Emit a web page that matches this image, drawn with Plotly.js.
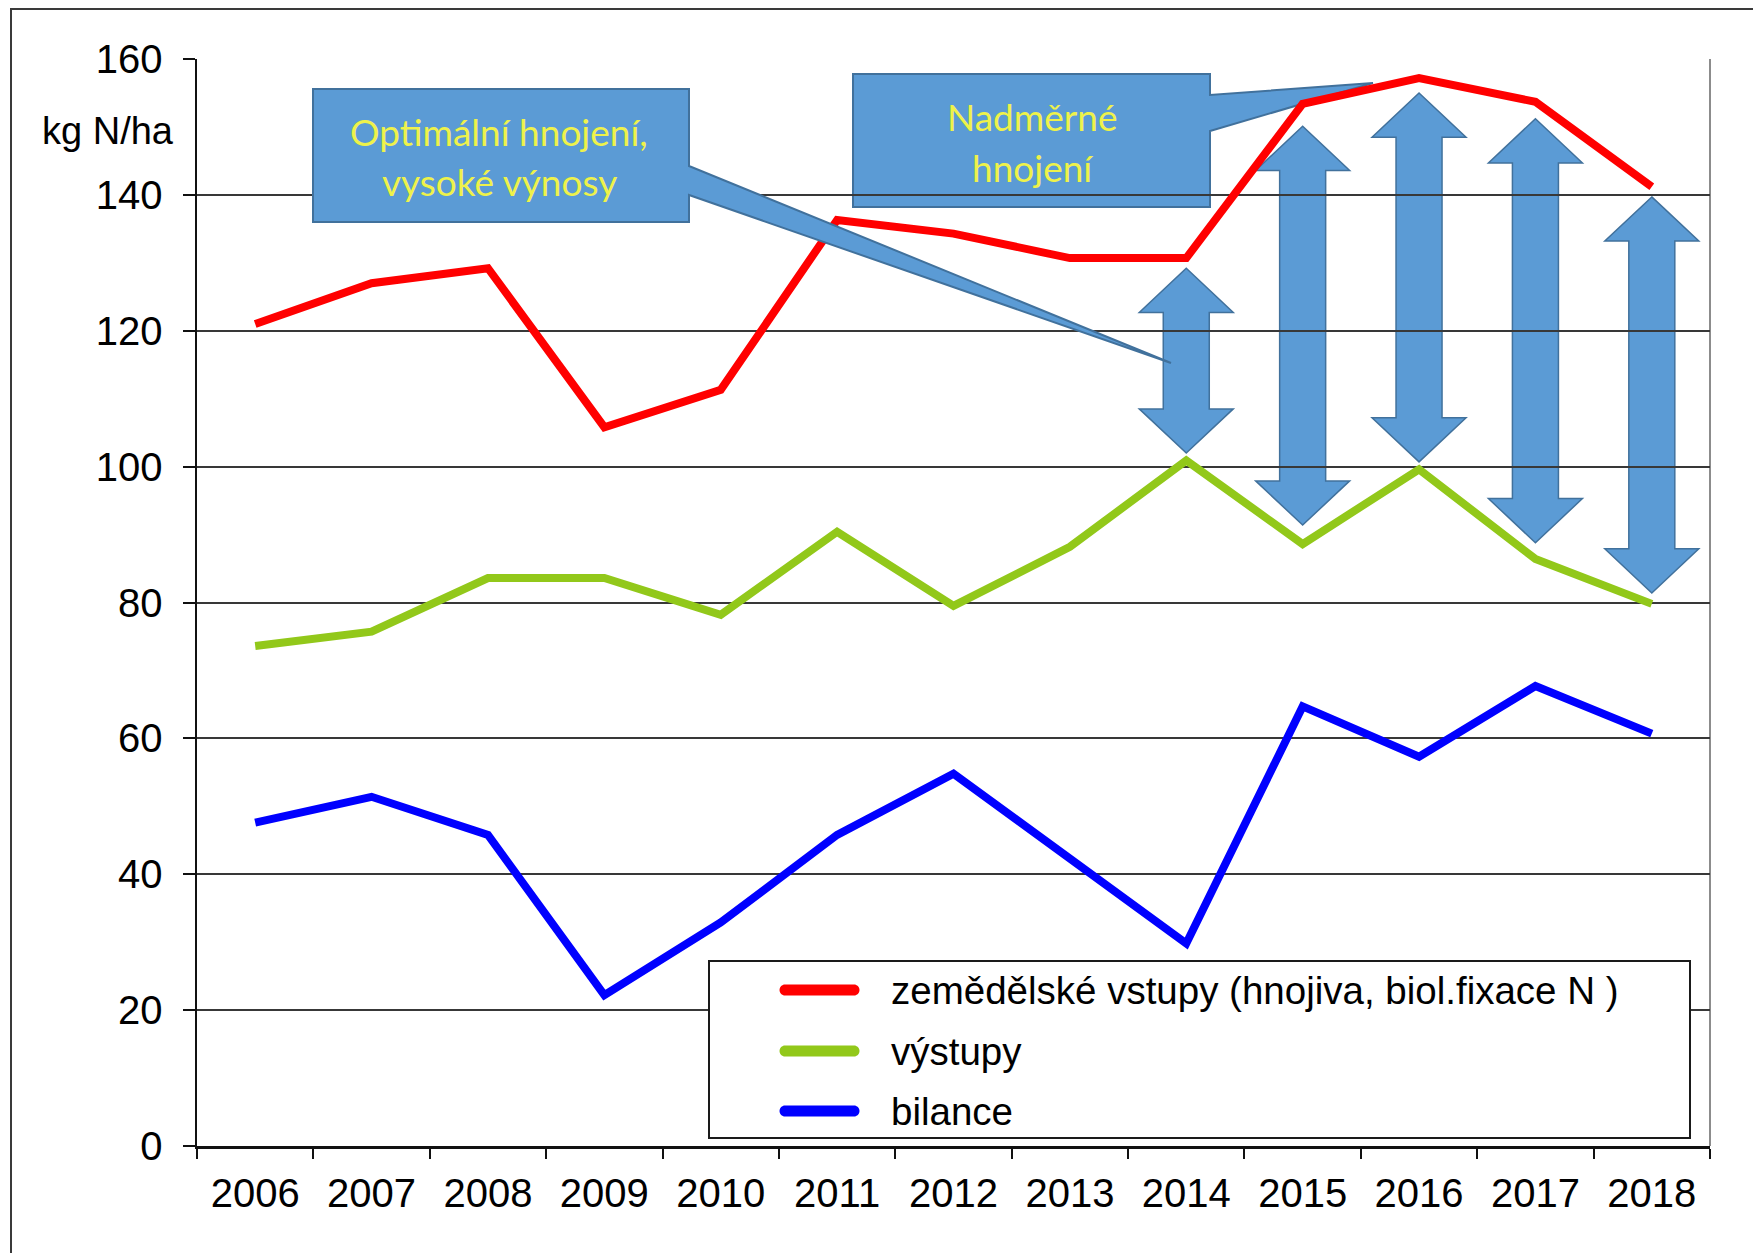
<!DOCTYPE html>
<html>
<head>
<meta charset="utf-8">
<script src="https://cdn.plot.ly/plotly-3.0.1.min.js"></script>
<style>html,body{margin:0;padding:0;background:#fff;}#chart{width:1753px;height:1253px;}</style>
</head>
<body>
<div id="chart"></div>
<script>
// ---- data ----
const years = ['2006','2007','2008','2009','2010','2011','2012','2013','2014','2015','2016','2017','2018'];
const vstupy = [121.0,127.0,129.2,105.8,111.3,136.3,134.3,130.7,130.7,153.4,157.2,153.7,141.2];
const vystupy = [73.6,75.7,83.6,83.6,78.2,90.4,79.5,88.2,100.9,88.6,99.6,86.4,79.8];
const bilance = [47.6,51.4,45.8,22.2,32.9,45.8,54.8,42.3,29.8,64.7,57.3,67.7,60.7];
const seriesNames = ['zemědělské vstupy (hnojiva, biol.fixace N )','výstupy','bilance'];
const seriesColors = ['#ff0000','#92c81a','#0000ff'];
const yTicks = [0,20,40,60,80,100,120,140,160];

// arrows: [year index, top tip value, bottom tip value]
const arrowYears = [8,9,10,11,12];
const arrowTop = [129.2,150.1,155.0,151.2,139.7];
const arrowBottom = [102.0,91.4,100.7,88.8,81.4];

// ---- geometry helpers (page pixels -> paper) ----
const W = 1753, H = 1253;
const L = 197, R = 1710, T = 59, B = 1146;
const px = p => (p - L) / (R - L);
const py = p => (B - p) / (B - T);
const pt = (x, y) => px(x).toFixed(5) + ',' + py(y).toFixed(5);
function pth(pts){ return 'M' + pts.map(p => pt(p[0], p[1])).join(' L') + ' Z'; }
function stadium(x0, x1, y, r){
  const k = 0.5523 * r;
  return 'M' + pt(x0, y - r) + ' L' + pt(x1, y - r) +
    ' C' + pt(x1 + k, y - r) + ' ' + pt(x1 + r, y - k) + ' ' + pt(x1 + r, y) +
    ' C' + pt(x1 + r, y + k) + ' ' + pt(x1 + k, y + r) + ' ' + pt(x1, y + r) +
    ' L' + pt(x0, y + r) +
    ' C' + pt(x0 - k, y + r) + ' ' + pt(x0 - r, y + k) + ' ' + pt(x0 - r, y) +
    ' C' + pt(x0 - r, y - k) + ' ' + pt(x0 - k, y - r) + ' ' + pt(x0, y - r) + ' Z';
}

const FONT = 'Liberation Sans, Arial, sans-serif';
const CALLFONT = 'Lato, Open Sans, sans-serif';
const boxFill = '#5b9bd5', boxLine = '#41719c', callText = '#eef24a';

const traces = [vstupy, vystupy, bilance].map((vals, i) => ({
  type: 'scatter', mode: 'lines', x: years, y: vals, name: seriesNames[i],
  line: {color: seriesColors[i], width: 8},
  showlegend: false,
  hoverinfo: 'x+y'
}));

const shapes = [];
// outer frame (top & left visible, rest beyond the picture)
shapes.push({type:'path', xref:'paper', yref:'paper', layer:'above',
  path: 'M' + pt(11, 1300) + ' L' + pt(11, 9) + ' L' + pt(1800, 9),
  line:{color:'#3a3a3a', width:2}});
// right plot border
shapes.push({type:'line', xref:'paper', yref:'paper', x0:1, x1:1, y0:0, y1:1, layer:'between',
  line:{color:'#8c8c8c', width:2}});
// double arrows
const hh = 6.5, hw = 47, sw = 23;
arrowYears.forEach((yi, k) => {
  const yt = arrowTop[k], yb = arrowBottom[k];
  const pts = [[0,yt],[hw,yt-hh],[sw,yt-hh],[sw,yb+hh],[hw,yb+hh],[0,yb],[-hw,yb+hh],[-sw,yb+hh],[-sw,yt-hh],[-hw,yt-hh]];
  shapes.push({type:'path', xref:'paper', yref:'y', xsizemode:'pixel', xanchor:(yi+0.5)/years.length,
    layer:'between', path:'M' + pts.map(p => p[0] + ',' + p[1]).join(' L') + ' Z',
    fillcolor: boxFill, line:{color: boxLine, width: 1.5}});
});
// callout 2 (below lines)
shapes.push({type:'path', xref:'paper', yref:'paper', layer:'between',
  path: pth([[853,74],[1210,74],[1210,95],[1373,83],[1210,131],[1210,207],[853,207]]),
  fillcolor: boxFill, line:{color: boxLine, width: 2}});
// callout 1 (above lines)
shapes.push({type:'path', xref:'paper', yref:'paper', layer:'above',
  path: pth([[313,89],[689,89],[689,166],[1171,363],[689,195],[689,222],[313,222]]),
  fillcolor: boxFill, line:{color: boxLine, width: 2}});
// legend box
shapes.push({type:'rect', xref:'paper', yref:'paper', layer:'above',
  x0: px(709), x1: px(1690), y0: py(1138), y1: py(961),
  fillcolor:'#ffffff', line:{color:'#1a1a1a', width:2}});
// legend sample lines (rounded ends)
const legendRows = [990, 1051, 1111];
legendRows.forEach((yy, i) => {
  shapes.push({type:'path', xref:'paper', yref:'paper', layer:'above',
    path: stadium(785, 854, yy, 5.5), fillcolor: seriesColors[i], line:{width:0}});
});

const annotations = [
  {xref:'paper', yref:'paper', x: px(108), y: py(131), xanchor:'center', yanchor:'middle',
   text:'kg N/ha', showarrow:false, font:{family:FONT, size:38, color:'#000'}},
  {xref:'paper', yref:'paper', x: px(499), y: py(131), xanchor:'center', yanchor:'middle',
   text:'Optimální hnojení,', showarrow:false, font:{family:CALLFONT, size:37, color:callText}},
  {xref:'paper', yref:'paper', x: px(499), y: py(182), xanchor:'center', yanchor:'middle',
   text:'vysoké výnosy', showarrow:false, font:{family:CALLFONT, size:37, color:callText}},
  {xref:'paper', yref:'paper', x: px(1032), y: py(116), xanchor:'center', yanchor:'middle',
   text:'Nadměrné', showarrow:false, font:{family:CALLFONT, size:37, color:callText}},
  {xref:'paper', yref:'paper', x: px(1032), y: py(168), xanchor:'center', yanchor:'middle',
   text:'hnojení', showarrow:false, font:{family:CALLFONT, size:37, color:callText}}
];
// legend texts
seriesNames.forEach((nm, i) => {
  annotations.push({xref:'paper', yref:'paper', x: px(889), y: py(legendRows[i]), xanchor:'left', yanchor:'middle',
    text: nm, showarrow:false, font:{family:FONT, size:38.5, color:'#000'}});
});

const layout = {
  width: W, height: H,
  margin: {l: L, r: W - R, t: T, b: H - B, pad: 0},
  paper_bgcolor: '#ffffff', plot_bgcolor: '#ffffff',
  showlegend: false,
  xaxis: {type:'category', range:[-0.5, years.length - 0.5], tickson:'boundaries',
    ticks:'outside', ticklen:10, tickwidth:2, tickcolor:'#111', ticklabelstandoff: 10,
    showline:true, linecolor:'#111', linewidth:2.5, showgrid:false, zeroline:false,
    tickfont:{family:FONT, size:40, color:'#000'}, fixedrange:true},
  yaxis: {range:[0,160], tickvals: yTicks, ticks:'outside', ticklen:12, tickwidth:2, tickcolor:'#111',
    ticklabelstandoff: 12,
    showline:true, linecolor:'#111', linewidth:2.5, showgrid:true, gridcolor:'#383838', gridwidth:2,
    zeroline:false, tickfont:{family:FONT, size:40, color:'#000'}, fixedrange:true},
  shapes: shapes,
  annotations: annotations
};

Plotly.newPlot('chart', traces, layout, {staticPlot:true, displayModeBar:false});
</script>
</body>
</html>
